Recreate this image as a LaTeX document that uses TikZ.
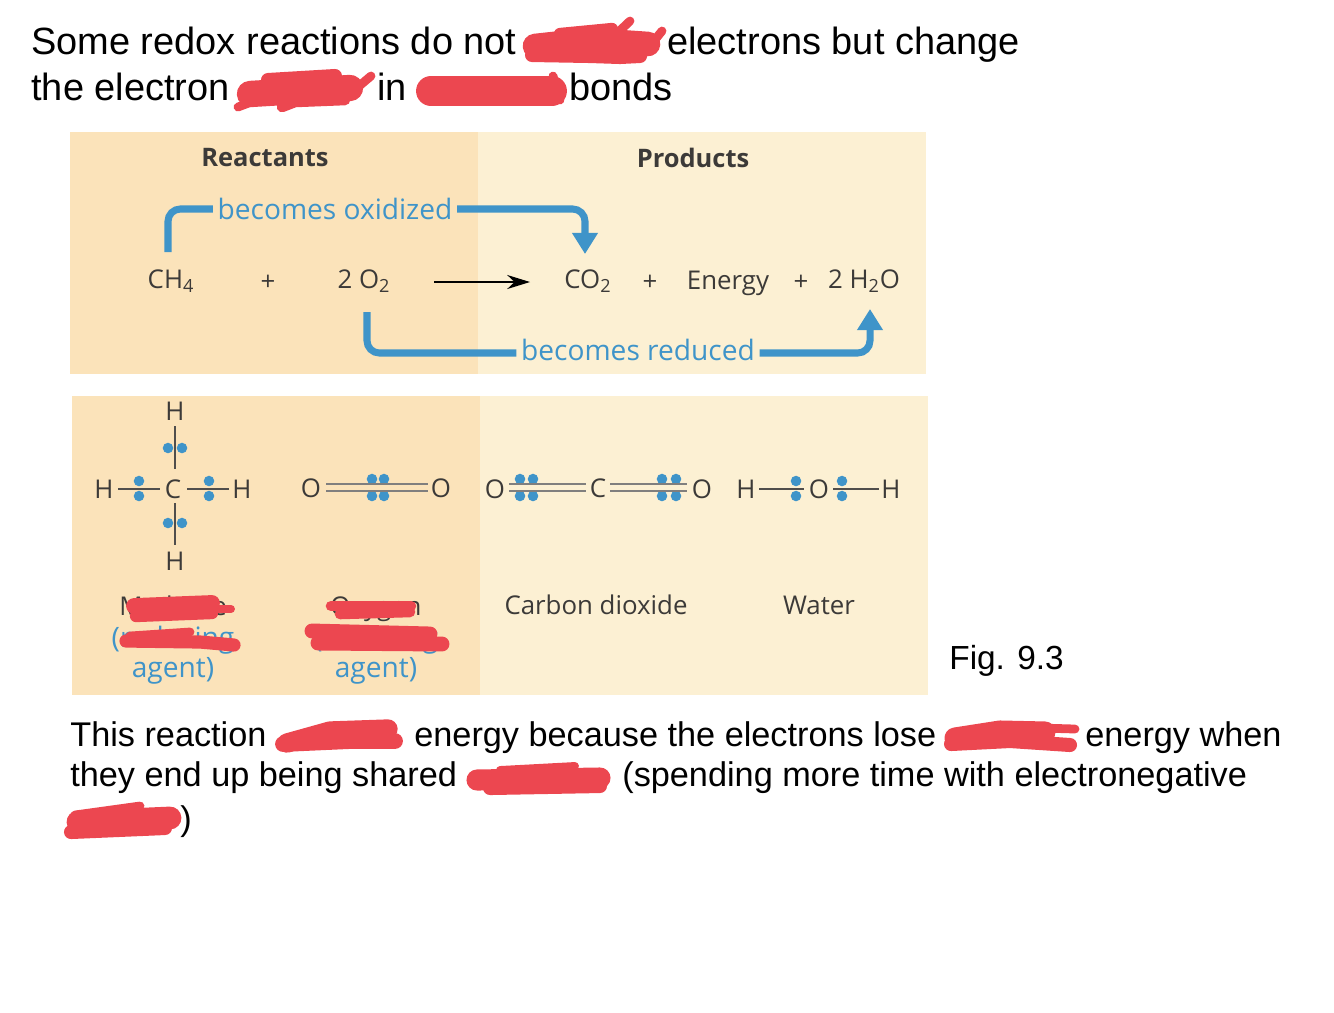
\documentclass[tikz,border=0pt]{standalone}
\usepackage{fontspec}
\usepackage{xcolor}
\setmainfont{Liberation Sans}
\newfontfamily\figfont{Open Sans}
\usetikzlibrary{arrows.meta}
\definecolor{panelL}{HTML}{FBE3BA}
\definecolor{panelR}{HTML}{FCF0D3}
\definecolor{barblue}{HTML}{3F94C9}
\definecolor{inkgrey}{HTML}{3C3A38}
\definecolor{scribred}{HTML}{EC4750}
\tikzset{
  body/.style={anchor=base west,inner sep=0pt,font=\fontsize{21.6}{24}\selectfont,text=black},
  lower/.style={anchor=base west,inner sep=0pt,font=\fontsize{19.5}{24}\selectfont,text=black},
  chem/.style={inner sep=0pt,font=\figfont\fontsize{14.7}{18}\selectfont,text=inkgrey},
  head/.style={inner sep=0pt,font=\figfont\bfseries\fontsize{14.5}{18}\selectfont,text=inkgrey},
  bluetxt/.style={inner sep=2.5pt,font=\figfont\fontsize{16}{18}\selectfont,text=barblue},
  bar/.style={draw=barblue,line width=4pt,rounded corners=7pt},
  bond/.style={draw=inkgrey!90,line width=1.2pt},
  dbl/.style={draw=inkgrey!65,line width=1.4pt},
  edot/.style={circle,fill=barblue,inner sep=0pt,minimum size=6pt},
  scrib/.style={draw=scribred,line cap=round,line join=round,line width=#1},
  scrib/.default=9pt
}
\begin{document}
\begin{tikzpicture}[x=0.02cm,y=-0.02cm,>=Stealth]
  \useasboundingbox (0,0) rectangle (1334,1012);
  % panels
  \fill[panelL] (70,132) rectangle (478,374);
  \fill[panelR] (478,132) rectangle (926,374);
  \fill[panelL] (72,396) rectangle (480,695);
  \fill[panelR] (480,396) rectangle (928,695);
  % top text
  \node[body] (t1) at (31,54) {Some redox reactions do not};
  \node[body] (t2) at (667,54) {electrons but change};
  \node[body] (t3) at (31,100) {the electron};
  \node[body] (t4) at (377,100) {in};
  \node[body] (t5) at (569,100) {bonds};
  % equation
  \node[head] (react) at (265,158) {Reactants};
  \node[head] (prod) at (693,158) {Products};
  \node[chem] (ch4) at (171,281) {CH\textsubscript{4}};
  \node[chem] (plus1) at (268,283) {+};
  \node[chem] (o2) at (364,281) {2 O\textsubscript{2}};
  \node[chem] (co2) at (588,281) {CO\textsubscript{2}};
  \node[chem] (plus2) at (650,283) {+};
  \node[chem] (energy) at (728,283) {Energy};
  \node[chem] (plus3) at (801,283) {+};
  \node[chem] (h2o) at (864,281) {2 H\textsubscript{2}O};
  \node[bluetxt] (oxid) at (335,209) {becomes oxidized};
  \node[bluetxt] (redu) at (638,350) {becomes reduced};
  \coordinate (yields) at (434,282);
  \coordinate (yieldsend) at (530,282);
  \draw[draw=black,line width=0.8pt,-{Stealth[length=13pt,width=8pt]}] (yields) -- (yieldsend);
  % blue arrows
  \coordinate (oxstart) at (168,252);
  \coordinate (oxend) at (585,254);
  \coordinate (restart) at (367,312);
  \coordinate (reend) at (870,309);
  \draw[bar] (oxstart) |- (oxid.west);
  \draw[bar,-{Triangle[length=12pt,width=14pt]}] (oxid.east) -| (oxend);
  \draw[bar] (restart) |- ([yshift=-1.7pt]redu.west);
  \draw[bar,-{Triangle[length=12pt,width=14pt]}] ([yshift=-1.7pt]redu.east) -| (reend);
  % methane
  \node[chem] (mh1) at (175,411) {H};
  \node[chem] (mc) at (173,489) {C};
  \node[chem] (mh2) at (104,489) {H};
  \node[chem] (mh3) at (242,489) {H};
  \node[chem] (mh4) at (175,561) {H};
  \draw[bond] (175,426) -- (175,469);
  \draw[bond] (175,503) -- (175,545);
  \draw[bond] (118,489) -- (160,489);
  \draw[bond] (187,489) -- (229,489);
  \foreach \dx/\dy in {168/448,182/448,168/523,182/523,139/481,139/496,209/481,209/496}
    \node[edot] at (\dx,\dy) {};
  % oxygen
  \node[chem] (oa) at (311,488) {O};
  \node[chem] (ob) at (441,488) {O};
  \foreach \dx in {372,384} {
    \node[edot] at (\dx,479) {};
    \node[edot] at (\dx,496) {};
  }
  \draw[dbl] (326,484) -- (428,484);
  \draw[dbl] (326,491) -- (428,491);
  % carbon dioxide
  \node[chem] (coa) at (495,489) {O};
  \node[chem] (coc) at (598,488) {C};
  \node[chem] (cob) at (702,489) {O};
  \foreach \dx in {520,533,662,676} {
    \node[edot] at (\dx,479) {};
    \node[edot] at (\dx,496) {};
  }
  \draw[dbl] (509,484) -- (586,484);
  \draw[dbl] (509,491) -- (586,491);
  \draw[dbl] (610,484) -- (687,484);
  \draw[dbl] (610,491) -- (687,491);
  % water
  \node[chem] (wha) at (746,489) {H};
  \node[chem] (wo) at (819,489) {O};
  \node[chem] (whb) at (891,489) {H};
  \draw[bond] (759,489) -- (804,489);
  \draw[bond] (833,489) -- (879,489);
  \foreach \dx in {796,842} {
    \node[edot] at (\dx,481) {};
    \node[edot] at (\dx,496) {};
  }
  % names
  \node[chem] (lbm) at (173,606) {Methane};
  \node[bluetxt] (lbmr) at (173,640) {(reducing};
  \node[bluetxt] (lbma) at (173,671) {agent)};
  \node[chem] (lbo) at (376,609) {Oxygen};
  \node[bluetxt] (lbor) at (376,640) {(oxidizing};
  \node[bluetxt] (lboa) at (376,671) {agent)};
  \node[chem] (lbc) at (596,605) {Carbon dioxide};
  \node[chem] (lbw) at (819,605) {Water};
  \node[anchor=west,inner sep=0pt,font=\fontsize{19}{22}\selectfont] (fig) at (949,661) {Fig. 9.3};
  % lower text
  \node[lower] (b1) at (70,746) {This reaction};
  \node[lower] (b2) at (414,746) {energy because the electrons lose};
  \node[lower] (b3) at (1085,746) {energy when};
  \node[lower] (b4) at (70,786) {they end up being shared};
  \node[lower] (b5) at (622,786) {(spending more time with electronegative};
  \node[lower] (b6) at (180,830) {)};
  % scribbles, top text
  \draw[scrib=14pt] (535,46) -- (590,40) -- (648,44);
  \draw[scrib=8pt] (532,55) -- (590,56) -- (620,57) -- (640,56);
  \draw[scrib=5pt] (610,40) -- (630,21);
  \draw[scrib=5pt] (640,58) -- (662,31);
  \draw[scrib=7pt] (560,34) -- (612,29);
  \draw[scrib=15pt] (250,94) -- (350,88);
  \draw[scrib=8pt] (268,80) -- (335,76);
  \draw[scrib=5pt] (238,107) -- (262,98);
  \draw[scrib=6pt] (282,107) -- (295,102) -- (345,100);
  \draw[scrib=5pt] (345,98) -- (371,76);
  \draw[scrib=17pt] (431,91) -- (552,91);
  \draw[scrib=5pt] (553,76) -- (560,100);
  % scribbles, panel labels
  \draw[scrib=9pt] (134,606) -- (212,603);
  \draw[scrib=4.5pt] (205,609) -- (231,609);
  \draw[scrib=7pt] (136,616) -- (212,613);
  \draw[scrib=5pt] (130,636) -- (190,632);
  \draw[scrib=7.5pt] (126,641) -- (200,642) -- (234,645);
  \draw[scrib=6pt] (331,606) -- (411,606);
  \draw[scrib=6pt] (340,614) -- (410,612);
  \draw[scrib=8.5pt] (312,631) -- (430,634);
  \draw[scrib=8.5pt] (318,643) -- (442,644);
  % scribbles, lower text
  \draw[scrib=11pt] (287,743) -- (330,731) -- (388,729);
  \draw[scrib=9pt] (283,744) -- (350,741) -- (395,741);
  \draw[scrib=12pt] (955,738) -- (1000,731) -- (1045,732);
  \draw[scrib=5pt] (1040,728) -- (1075,729);
  \draw[scrib=8pt] (951,744) -- (1010,741) -- (1070,745);
  \draw[scrib=12pt] (477,780) -- (600,778);
  \draw[scrib=8pt] (490,788) -- (600,786);
  \draw[scrib=4.5pt] (500,770) -- (575,766);
  \draw[scrib=13pt] (78,822) -- (170,818);
  \draw[scrib=8pt] (71,832) -- (165,828);
  \draw[scrib=5pt] (75,815) -- (140,806);
\end{tikzpicture}
\end{document}
